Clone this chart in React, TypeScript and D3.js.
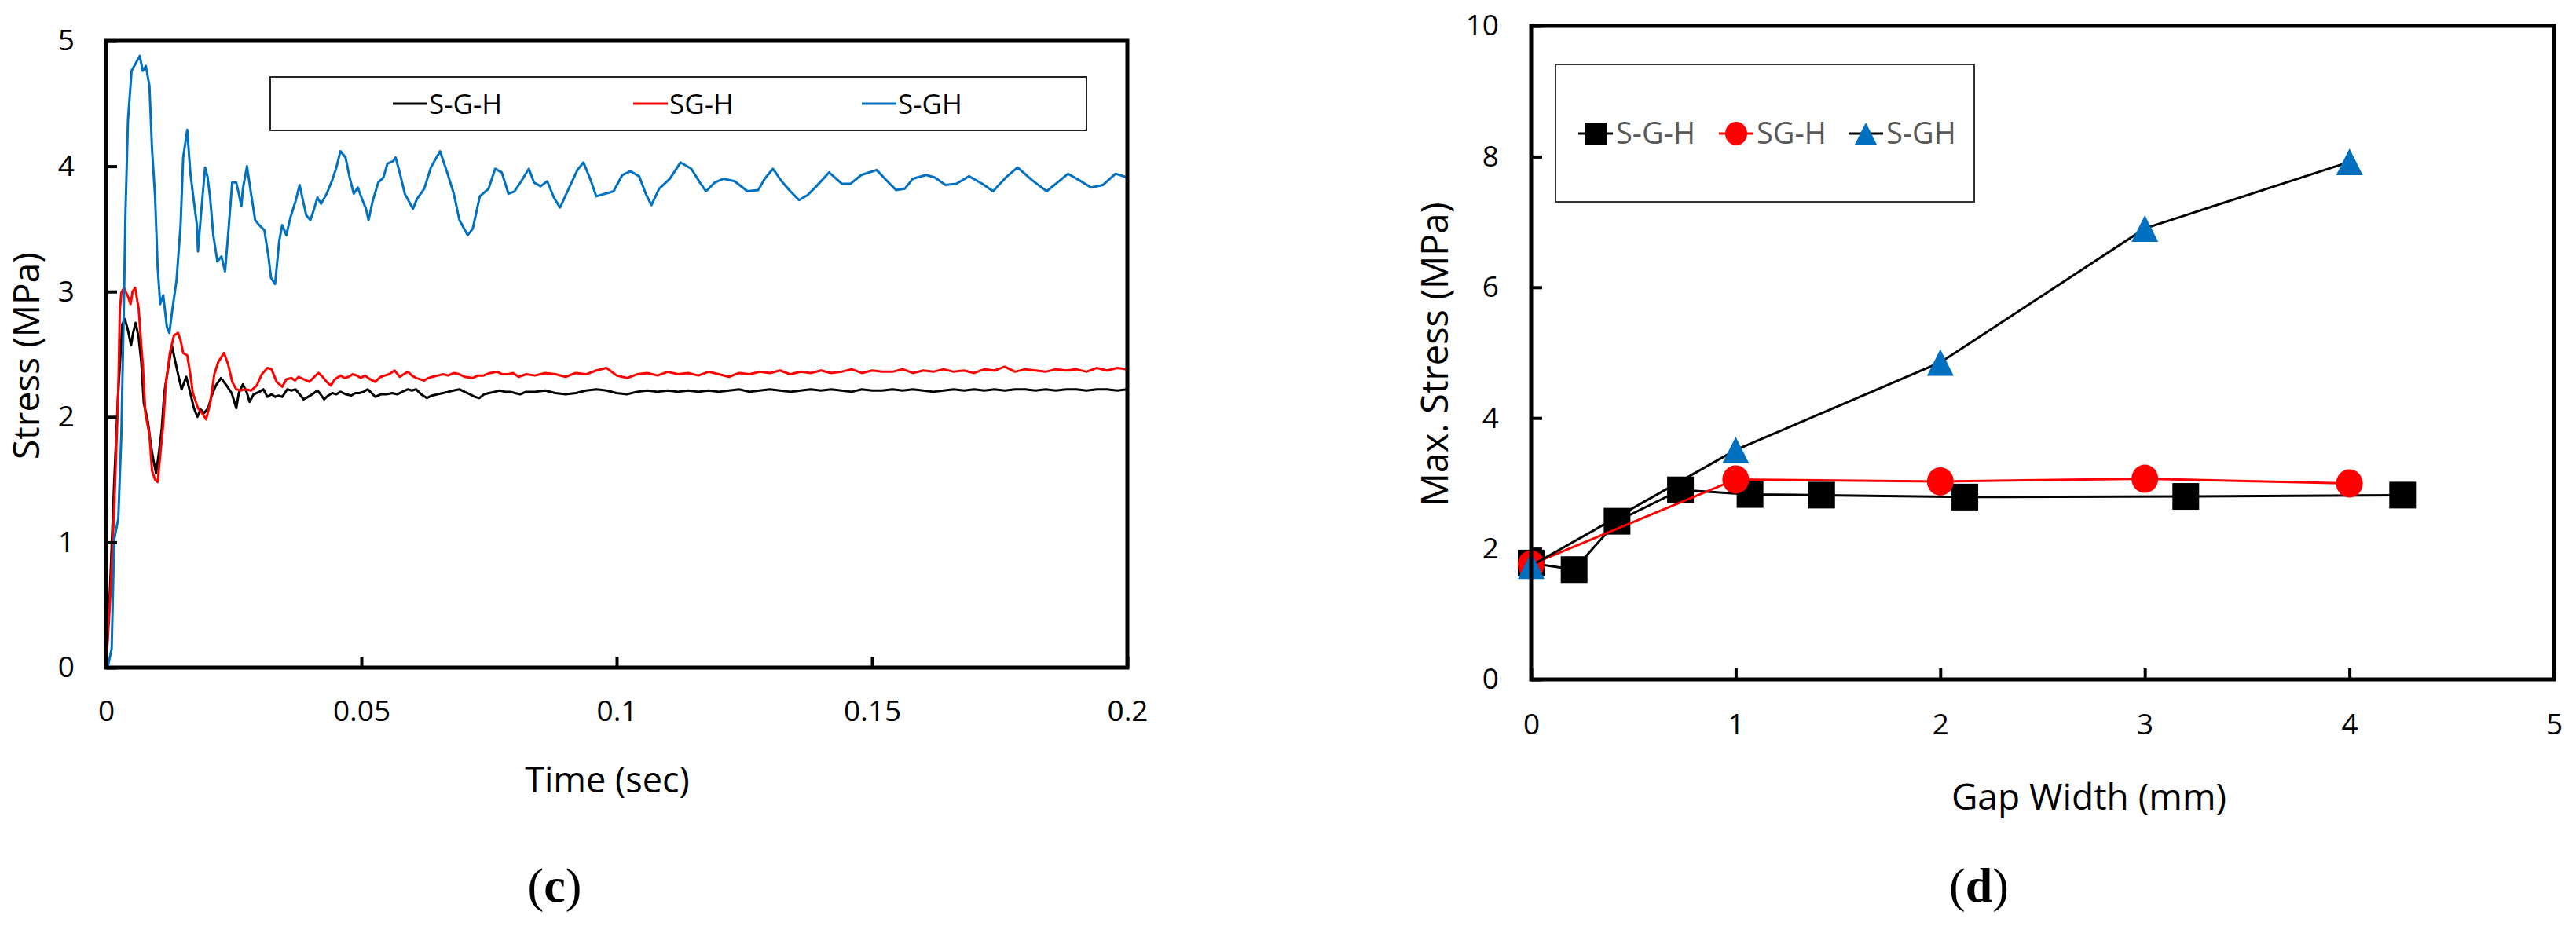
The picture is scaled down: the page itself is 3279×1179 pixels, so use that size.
import React, { useEffect, useRef } from 'react';
import * as d3 from 'd3';

// canvas
const W = 3279;
const H = 1179;
const FONT = "'Open Sans', 'Noto Sans', sans-serif";

// ---- panel (c): stress vs time ----
const timeTicks = [0, 0.05, 0.1, 0.15, 0.2];
const stressTicks = [0, 1, 2, 3, 4, 5];
const traceNames = ['S-G-H', 'SG-H', 'S-GH'];
const traceColors = ['#000000', '#ff0000', '#0070c0'];

// [time (sec), stress (MPa)]
const traceS_G_H: [number, number][] = [
  [0, 0], [0.0008, 0.65], [0.0016, 1.48], [0.0024, 2.21], [0.0032, 2.74], [0.0037, 2.78],
  [0.0043, 2.69], [0.0049, 2.57], [0.0053, 2.67], [0.0058, 2.75], [0.0064, 2.63], [0.0069, 2.44],
  [0.0074, 2.11], [0.0082, 1.96], [0.0088, 1.77], [0.0093, 1.65], [0.0098, 1.55], [0.0104, 1.73],
  [0.0109, 1.9], [0.0114, 2.19], [0.0122, 2.4], [0.0129, 2.57], [0.0133, 2.49], [0.0141, 2.34],
  [0.0148, 2.22], [0.0157, 2.32], [0.0165, 2.19], [0.0172, 2.07], [0.0179, 2.0], [0.0185, 2.06],
  [0.0192, 2.03], [0.02, 2.07], [0.0207, 2.17], [0.0215, 2.25], [0.0225, 2.31], [0.0236, 2.25],
  [0.0246, 2.19], [0.0255, 2.07], [0.026, 2.19], [0.0268, 2.26], [0.0276, 2.19], [0.0281, 2.12],
  [0.0289, 2.18], [0.03, 2.2], [0.0308, 2.22], [0.0316, 2.16], [0.0324, 2.18], [0.0331, 2.16],
  [0.0338, 2.17], [0.0345, 2.16], [0.0355, 2.22], [0.0363, 2.21], [0.0371, 2.22], [0.0379, 2.18],
  [0.0387, 2.14], [0.04, 2.17], [0.0414, 2.21], [0.042, 2.18], [0.0427, 2.14], [0.0435, 2.17],
  [0.0443, 2.19], [0.0451, 2.18], [0.0459, 2.2], [0.047, 2.18], [0.048, 2.17], [0.0488, 2.19],
  [0.0496, 2.19], [0.0504, 2.2], [0.0512, 2.22], [0.052, 2.19], [0.0527, 2.16], [0.0538, 2.18],
  [0.0549, 2.18], [0.056, 2.19], [0.057, 2.18], [0.058, 2.2], [0.0591, 2.22], [0.0599, 2.21],
  [0.0607, 2.22], [0.0617, 2.18], [0.0628, 2.15], [0.0638, 2.17], [0.0649, 2.18], [0.066, 2.19],
  [0.067, 2.2], [0.068, 2.21], [0.0692, 2.22], [0.0702, 2.2], [0.0713, 2.18], [0.0722, 2.16],
  [0.0731, 2.15], [0.074, 2.18], [0.075, 2.19], [0.0761, 2.2], [0.0771, 2.21], [0.0782, 2.2],
  [0.0792, 2.2], [0.0801, 2.19], [0.0811, 2.18], [0.0822, 2.2],
  [0.084, 2.2], [0.086, 2.21], [0.088, 2.19], [0.09, 2.18], [0.092, 2.19], [0.094, 2.21],
  [0.096, 2.22], [0.098, 2.21], [0.1, 2.19], [0.102, 2.18], [0.104, 2.2], [0.106, 2.21],
  [0.108, 2.2], [0.11, 2.21], [0.112, 2.2], [0.114, 2.21], [0.116, 2.2], [0.118, 2.21],
  [0.12, 2.2], [0.122, 2.21], [0.124, 2.22], [0.126, 2.2], [0.128, 2.21], [0.13, 2.22],
  [0.132, 2.21], [0.134, 2.2], [0.136, 2.21], [0.138, 2.22], [0.14, 2.21], [0.142, 2.22],
  [0.144, 2.21], [0.146, 2.2], [0.148, 2.22], [0.15, 2.21], [0.152, 2.21], [0.154, 2.22],
  [0.156, 2.21], [0.158, 2.22], [0.16, 2.21], [0.162, 2.2], [0.164, 2.21], [0.166, 2.22],
  [0.168, 2.21], [0.17, 2.22], [0.172, 2.21], [0.174, 2.22], [0.176, 2.21], [0.178, 2.22],
  [0.18, 2.22], [0.182, 2.21], [0.184, 2.22], [0.186, 2.21], [0.188, 2.22], [0.19, 2.22],
  [0.192, 2.21], [0.194, 2.22], [0.196, 2.22], [0.198, 2.21], [0.2, 2.22],
];

const traceSG_H: [number, number][] = [
  [0, 0], [0.0008, 0.54], [0.0016, 1.27], [0.0024, 2.21], [0.0027, 2.85], [0.003, 2.99],
  [0.0035, 3.03], [0.0043, 2.96], [0.0048, 2.9], [0.0052, 3.0], [0.0057, 3.03], [0.0064, 2.86],
  [0.0069, 2.57], [0.0072, 2.42], [0.0077, 2.03], [0.0085, 1.86], [0.009, 1.57], [0.0096, 1.5],
  [0.0101, 1.48], [0.0106, 1.69], [0.0112, 1.94], [0.0117, 2.26], [0.0125, 2.51], [0.0133, 2.65],
  [0.0141, 2.67], [0.0146, 2.61], [0.0151, 2.51], [0.0159, 2.49], [0.0165, 2.34], [0.017, 2.19],
  [0.0175, 2.13], [0.018, 2.07], [0.0188, 2.03], [0.0196, 1.98], [0.0204, 2.11], [0.0212, 2.34],
  [0.022, 2.44], [0.0231, 2.51], [0.0239, 2.42], [0.0247, 2.28], [0.0255, 2.22], [0.0263, 2.21],
  [0.0273, 2.22], [0.0284, 2.21], [0.0295, 2.25], [0.0305, 2.34], [0.0316, 2.39], [0.0324, 2.38],
  [0.0334, 2.28], [0.0345, 2.24], [0.0353, 2.3], [0.0363, 2.31], [0.037, 2.29], [0.0377, 2.32],
  [0.0387, 2.3], [0.0398, 2.28], [0.0408, 2.32], [0.0416, 2.35], [0.0424, 2.32], [0.0432, 2.28],
  [0.044, 2.25], [0.0448, 2.3], [0.0459, 2.33], [0.0467, 2.31], [0.0475, 2.32], [0.0483, 2.34],
  [0.0491, 2.33], [0.0499, 2.31], [0.0507, 2.33], [0.0517, 2.3], [0.0527, 2.28], [0.0538, 2.32],
  [0.0546, 2.33], [0.0554, 2.34], [0.0565, 2.37], [0.0575, 2.32], [0.0583, 2.34], [0.0591, 2.36],
  [0.0599, 2.33], [0.0607, 2.31], [0.0615, 2.3], [0.0623, 2.29], [0.0631, 2.31], [0.0639, 2.32],
  [0.065, 2.33], [0.066, 2.34], [0.067, 2.33], [0.0681, 2.35], [0.0692, 2.34], [0.0702, 2.32],
  [0.0718, 2.31], [0.0728, 2.33], [0.0739, 2.33], [0.0752, 2.35], [0.0766, 2.36], [0.0776, 2.34],
  [0.0787, 2.34], [0.0797, 2.35], [0.0808, 2.32], [0.0823, 2.34],
  [0.084, 2.33], [0.086, 2.35], [0.088, 2.34], [0.09, 2.32], [0.092, 2.35], [0.094, 2.34],
  [0.096, 2.37], [0.098, 2.39], [0.1, 2.33], [0.102, 2.31], [0.104, 2.34], [0.106, 2.35],
  [0.108, 2.33], [0.11, 2.36], [0.112, 2.34], [0.114, 2.35], [0.116, 2.33], [0.118, 2.36],
  [0.12, 2.34], [0.122, 2.32], [0.124, 2.35], [0.126, 2.34], [0.128, 2.36], [0.13, 2.35],
  [0.132, 2.37], [0.134, 2.34], [0.136, 2.36], [0.138, 2.35], [0.14, 2.37], [0.142, 2.35],
  [0.144, 2.36], [0.146, 2.38], [0.148, 2.35], [0.15, 2.37], [0.152, 2.36], [0.154, 2.36],
  [0.156, 2.38], [0.158, 2.35], [0.16, 2.37], [0.162, 2.36], [0.164, 2.38], [0.166, 2.36],
  [0.168, 2.37], [0.17, 2.35], [0.172, 2.38], [0.174, 2.37], [0.176, 2.4], [0.178, 2.36],
  [0.18, 2.38], [0.182, 2.37], [0.184, 2.36], [0.186, 2.38], [0.188, 2.37], [0.19, 2.38],
  [0.192, 2.36], [0.194, 2.39], [0.196, 2.37], [0.198, 2.39], [0.2, 2.38],
];

const traceS_GH: [number, number][] = [
  [0, 0], [0.0003, 0.0], [0.0011, 0.15], [0.0016, 1.02], [0.0024, 1.19], [0.003, 1.86],
  [0.0035, 2.9], [0.0038, 3.62], [0.0043, 4.37], [0.005, 4.76], [0.0058, 4.82], [0.0066, 4.88],
  [0.0072, 4.76], [0.0078, 4.8], [0.0085, 4.64], [0.009, 4.14], [0.0096, 3.76], [0.0101, 3.2],
  [0.0106, 2.9], [0.0112, 2.97], [0.0119, 2.72], [0.0124, 2.67], [0.013, 2.86], [0.0138, 3.09],
  [0.0146, 3.53], [0.0151, 4.07], [0.0159, 4.29], [0.0165, 3.95], [0.0172, 3.72], [0.0178, 3.53],
  [0.018, 3.32], [0.0186, 3.62], [0.0194, 3.99], [0.0199, 3.91], [0.0204, 3.74], [0.021, 3.45],
  [0.0218, 3.24], [0.0226, 3.28], [0.0233, 3.16], [0.0239, 3.45], [0.0247, 3.87], [0.0255, 3.87],
  [0.026, 3.78], [0.0265, 3.68], [0.0268, 3.82], [0.0276, 4.0], [0.0284, 3.78], [0.0292, 3.57],
  [0.03, 3.53], [0.031, 3.49], [0.0318, 3.28], [0.0323, 3.11], [0.0331, 3.06], [0.0339, 3.4],
  [0.0345, 3.53], [0.0353, 3.45], [0.0361, 3.59], [0.0371, 3.72], [0.0379, 3.85], [0.0387, 3.7],
  [0.0392, 3.61], [0.04, 3.57], [0.0406, 3.64], [0.0414, 3.75], [0.0421, 3.7], [0.0432, 3.78],
  [0.0443, 3.89], [0.0451, 3.99], [0.0459, 4.12], [0.0469, 4.07], [0.0477, 3.91], [0.0485, 3.78],
  [0.0493, 3.83], [0.0501, 3.74], [0.0509, 3.66], [0.0514, 3.57], [0.0522, 3.72], [0.0533, 3.87],
  [0.0543, 3.91], [0.0551, 4.02], [0.0562, 4.04], [0.0567, 4.07], [0.0575, 3.95], [0.0585, 3.78],
  [0.0601, 3.66], [0.0609, 3.74], [0.0623, 3.82], [0.0636, 3.99], [0.0654, 4.12], [0.0668, 3.95],
  [0.0681, 3.78], [0.0692, 3.57], [0.0708, 3.45], [0.0718, 3.5], [0.0732, 3.76], [0.0749, 3.82],
  [0.0762, 3.98], [0.0775, 3.95], [0.0788, 3.78], [0.08, 3.8], [0.0813, 3.88], [0.0828, 3.98],
  [0.0838, 3.87], [0.0851, 3.84], [0.0864, 3.88], [0.0877, 3.75], [0.0889, 3.67], [0.0906, 3.82],
  [0.0923, 3.97], [0.0935, 4.03], [0.0948, 3.9], [0.096, 3.76], [0.0977, 3.78], [0.0994, 3.8],
  [0.1011, 3.93], [0.1027, 3.96], [0.1044, 3.92], [0.1057, 3.78], [0.1068, 3.69], [0.1083, 3.82],
  [0.1104, 3.9], [0.1125, 4.03], [0.1146, 3.98], [0.1163, 3.87], [0.1175, 3.8], [0.1192, 3.87],
  [0.1209, 3.9], [0.1231, 3.88], [0.1256, 3.8], [0.1277, 3.81], [0.129, 3.9], [0.1306, 3.98],
  [0.1323, 3.88], [0.134, 3.8], [0.1357, 3.73], [0.1374, 3.77], [0.1391, 3.84], [0.1416, 3.95],
  [0.1441, 3.86], [0.1458, 3.86], [0.1479, 3.93], [0.1509, 3.97], [0.153, 3.88], [0.1547, 3.81],
  [0.1564, 3.82], [0.158, 3.9], [0.1606, 3.93], [0.1623, 3.91], [0.1644, 3.85], [0.1665, 3.86],
  [0.169, 3.92], [0.1716, 3.86], [0.1737, 3.8], [0.1762, 3.91], [0.1785, 3.99], [0.1813, 3.89],
  [0.1842, 3.8], [0.1863, 3.87], [0.1884, 3.94], [0.1905, 3.89], [0.1929, 3.83], [0.1952, 3.85],
  [0.1977, 3.94], [0.2, 3.91],
];

// ---- panel (d): max stress vs gap width ----
const gapTicks = [0, 1, 2, 3, 4, 5];
const maxStressTicks = [0, 2, 4, 6, 8, 10];

const gapS_G_H = [0, 0.21, 0.42, 0.73, 1.07, 1.42, 2.12, 3.2, 4.26];
const maxS_G_H = [1.78, 1.68, 2.42, 2.9, 2.83, 2.82, 2.79, 2.8, 2.82];
const gapSG_H = [0, 1, 2, 3, 4];
const maxSG_H = [1.76, 3.06, 3.03, 3.07, 3.0];
const gapS_GH = [0, 1, 2, 3, 4];
const maxS_GH = [1.74, 3.51, 4.85, 6.9, 7.92];

const plainNumber = d => String(+d);

const styleAxis = (g, size) => {
  g.select('.domain').remove();
  g.selectAll('.tick line').attr('stroke', '#000').attr('stroke-width', 4);
  g.selectAll('.tick text')
    .attr('fill', '#000')
    .style('font-family', FONT)
    .style('font-size', `${size}px`);
};

const App = () => {
  const svgRef = useRef(null);

  useEffect(() => {
    const svg = d3.select(svgRef.current);
    svg.selectAll('*').remove();

    // ---------- panel (c) ----------
    const x1 = d3.scaleLinear().domain([0, 0.2]).range([135, 1435]);
    const y1 = d3.scaleLinear().domain([0, 5]).range([850, 52]);

    const line1 = d3.line<[number, number]>()
      .x(d => x1(d[0]))
      .y(d => y1(d[1]));

    [traceS_G_H, traceSG_H, traceS_GH].forEach((trace, i) => {
      svg.append('path')
        .datum(trace)
        .attr('d', line1)
        .attr('fill', 'none')
        .attr('stroke', traceColors[i])
        .attr('stroke-width', 3)
        .attr('stroke-linejoin', 'round');
    });

    svg.append('g')
      .attr('transform', `translate(0,${y1(0)})`)
      .call(d3.axisBottom(x1).tickValues(timeTicks).tickFormat(plainNumber).tickSizeInner(-14).tickSizeOuter(0).tickPadding(42))
      .call(g => styleAxis(g, 37));

    svg.append('g')
      .attr('transform', `translate(${x1(0)},0)`)
      .call(d3.axisLeft(y1).tickValues(stressTicks).tickFormat(plainNumber).tickSizeInner(-14).tickSizeOuter(0).tickPadding(40))
      .call(g => styleAxis(g, 37));

    svg.append('rect')
      .attr('x', x1(0)).attr('y', y1(5))
      .attr('width', x1(0.2) - x1(0)).attr('height', y1(0) - y1(5))
      .attr('fill', 'none').attr('stroke', '#000').attr('stroke-width', 5);

    // legend (c)
    svg.append('rect')
      .attr('x', 344).attr('y', 98).attr('width', 1039).attr('height', 68)
      .attr('fill', '#fff').attr('stroke', '#222').attr('stroke-width', 2);
    const leg1X = [500, 806, 1097];
    traceNames.forEach((name, i) => {
      svg.append('line')
        .attr('x1', leg1X[i]).attr('x2', leg1X[i] + 44)
        .attr('y1', 132).attr('y2', 132)
        .attr('stroke', traceColors[i]).attr('stroke-width', 3);
      svg.append('text')
        .attr('x', leg1X[i] + 46).attr('y', 145)
        .style('font-family', FONT).style('font-size', '35px')
        .attr('fill', '#000')
        .text(name);
    });

    svg.append('text')
      .attr('x', 773).attr('y', 1009)
      .attr('text-anchor', 'middle')
      .style('font-family', FONT).style('font-size', '45px')
      .text('Time (sec)');

    svg.append('text')
      .attr('transform', 'translate(50,453) rotate(-90)')
      .attr('text-anchor', 'middle')
      .style('font-family', FONT).style('font-size', '46px')
      .text('Stress (MPa)');

    // ---------- panel (d) ----------
    const x2 = d3.scaleLinear().domain([0, 5]).range([1949, 3251]);
    const y2 = d3.scaleLinear().domain([0, 10]).range([865, 33]);

    svg.append('g')
      .attr('transform', `translate(0,${y2(0)})`)
      .call(d3.axisBottom(x2).tickValues(gapTicks).tickFormat(plainNumber).tickSizeInner(-14).tickSizeOuter(0).tickPadding(44))
      .call(g => styleAxis(g, 37));

    svg.append('g')
      .attr('transform', `translate(${x2(0)},0)`)
      .call(d3.axisLeft(y2).tickValues(maxStressTicks).tickFormat(plainNumber).tickSizeInner(-14).tickSizeOuter(0).tickPadding(41))
      .call(g => styleAxis(g, 37));

    const line2 = d3.line<number[]>()
      .x(d => d[0])
      .y(d => d[1]);

    const pts = (xs, ys) => xs.map((v, i) => [x2(v), y2(ys[i])]);

    const markerSize = 34;
    const drawSquare = (g, x, y, s) =>
      g.append('rect').attr('x', x - s / 2).attr('y', y - s / 2)
        .attr('width', s).attr('height', s).attr('fill', '#000');
    const drawCircle = (g, x, y, s) =>
      g.append('ellipse').attr('cx', x).attr('cy', y)
        .attr('rx', s / 2).attr('ry', s / 2 + 1).attr('fill', '#ff0000');
    const drawTriangle = (g, x, y, s) =>
      g.append('path')
        .attr('d', `M${x},${y - s / 2}L${x + s / 2},${y + s / 2}L${x - s / 2},${y + s / 2}Z`)
        .attr('fill', '#0070c0');

    const groups = [
      { xs: gapS_G_H, ys: maxS_G_H, line: '#000', marker: drawSquare },
      { xs: gapSG_H, ys: maxSG_H, line: '#ff0000', marker: drawCircle },
      { xs: gapS_GH, ys: maxS_GH, line: '#000', marker: drawTriangle },
    ];

    groups.forEach(s => {
      const p = pts(s.xs, s.ys);
      const g = svg.append('g');
      g.append('path')
        .datum(p)
        .attr('d', line2)
        .attr('fill', 'none')
        .attr('stroke', s.line)
        .attr('stroke-width', 3);
      p.forEach(q => s.marker(g, q[0], q[1], markerSize));
    });

    svg.append('rect')
      .attr('x', x2(0)).attr('y', y2(10))
      .attr('width', x2(5) - x2(0)).attr('height', y2(0) - y2(10))
      .attr('fill', 'none').attr('stroke', '#000').attr('stroke-width', 5);

    // legend (d)
    svg.append('rect')
      .attr('x', 1980).attr('y', 82).attr('width', 533).attr('height', 175)
      .attr('fill', '#fff').attr('stroke', '#333').attr('stroke-width', 2);
    const leg2X = [2031, 2210, 2375];
    traceNames.forEach((name, i) => {
      const g = svg.append('g');
      g.append('line')
        .attr('x1', leg2X[i] - 22).attr('x2', leg2X[i] + 22)
        .attr('y1', 170).attr('y2', 170)
        .attr('stroke', groups[i].line).attr('stroke-width', 3);
      groups[i].marker(g, leg2X[i], 170, 28);
      g.append('text')
        .attr('x', leg2X[i] + 26).attr('y', 183)
        .style('font-family', FONT).style('font-size', '38px')
        .attr('fill', '#595959')
        .text(name);
    });

    svg.append('text')
      .attr('x', 2659).attr('y', 1031)
      .attr('text-anchor', 'middle')
      .style('font-family', FONT).style('font-size', '46px')
      .text('Gap Width (mm)');

    svg.append('text')
      .attr('transform', 'translate(1843,451) rotate(-90)')
      .attr('text-anchor', 'middle')
      .style('font-family', FONT).style('font-size', '47px')
      .text('Max. Stress (MPa)');

    // panel captions
    [['c', 706], ['d', 2519]].forEach(([letter, cx]) => {
      const t = svg.append('text')
        .attr('x', cx).attr('y', 1148)
        .attr('text-anchor', 'middle')
        .style('font-family', "'Liberation Serif', 'DejaVu Serif', serif")
        .style('font-size', '62px');
      t.append('tspan').text('(');
      t.append('tspan').attr('font-weight', 'bold').text(letter);
      t.append('tspan').text(')');
    });
  }, []);

  return (
    <svg
      ref={svgRef}
      width={W}
      height={H}
      style={{ position: 'absolute', left: 0, top: 0, background: '#fff' }}
    />
  );
};

export default App;
